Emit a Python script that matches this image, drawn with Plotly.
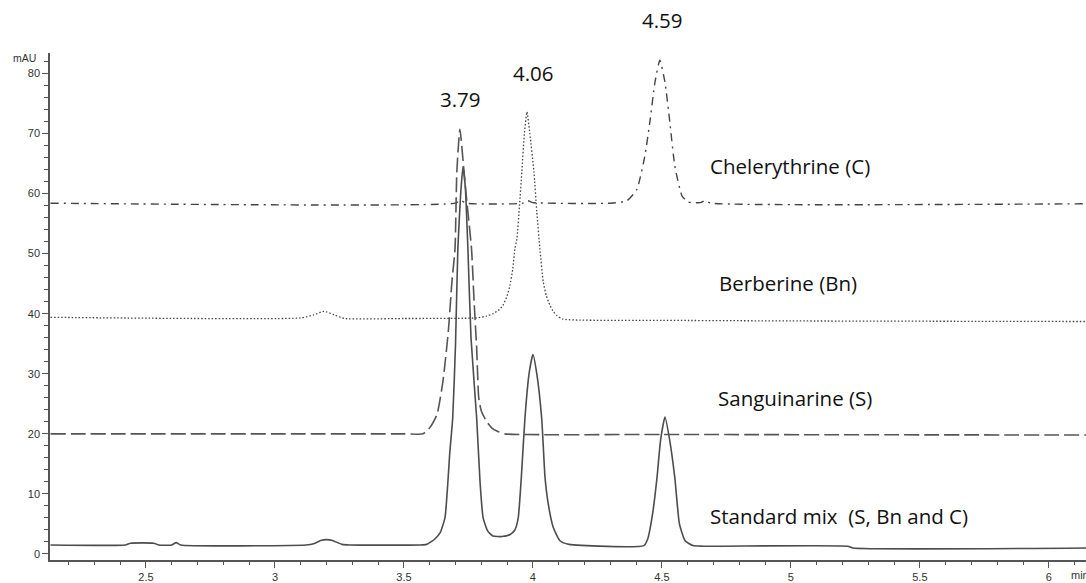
import plotly.graph_objects as go

# ---------------- data ----------------
# Standard mix (S, Bn and C) - solid line
mix_time = [2.13, 2.42, 2.44, 2.53, 2.55, 2.60, 2.617, 2.635, 3.12, 3.15, 3.18, 3.20, 3.22, 3.26, 3.29,
            3.56, 3.588, 3.62, 3.64, 3.659, 3.678, 3.689, 3.70, 3.709, 3.72, 3.729, 3.738, 3.748, 3.76,
            3.782, 3.795, 3.807, 3.825, 3.845, 3.88, 3.91, 3.93, 3.943, 3.955, 3.969, 3.985, 4.0, 4.015,
            4.034, 4.047, 4.060, 4.079, 4.105, 4.14, 4.43, 4.445, 4.465, 4.481, 4.495, 4.512, 4.53, 4.55,
            4.568, 4.59, 4.62, 4.66, 5.22, 5.24, 6.15]
mix_mau = [1.5, 1.5, 1.8, 1.8, 1.5, 1.5, 1.9, 1.5, 1.5, 1.7, 2.3, 2.4, 2.3, 1.6, 1.5,
           1.5, 1.6, 2.5, 3.5, 6.0, 17.0, 22.6, 35.0, 50.8, 60.0, 64.5, 61.0, 50.8, 36.0,
           22.6, 12.0, 6.0, 3.8, 3.0, 2.9, 3.2, 4.0, 6.0, 12.7, 22.6, 30.0, 33.2, 30.0,
           22.6, 12.7, 8.2, 4.4, 2.2, 1.6, 1.4, 2.5, 7.0, 12.7, 19.0, 22.8, 19.0, 12.7,
           5.0, 2.2, 1.4, 1.3, 1.3, 1.0, 1.0]

# Sanguinarine (S) - dashed line
s_time = [2.13, 3.50, 3.574, 3.60, 3.628, 3.651, 3.672, 3.686, 3.698, 3.705, 3.717, 3.733, 3.744,
          3.762, 3.772, 3.782, 3.79, 3.80, 3.82, 3.84, 3.864, 3.89, 4.5, 6.15]
s_mau = [20.0, 20.0, 20.0, 21.0, 23.2, 28.7, 37.0, 45.3, 50.8, 63.6, 70.7, 63.6, 58.6,
         50.8, 42.0, 34.2, 26.0, 23.8, 22.1, 21.0, 20.4, 20.0, 19.9, 19.8]

# Berberine (Bn) - dotted line
b_time = [2.13, 3.10, 3.15, 3.19, 3.23, 3.27, 3.50, 3.782, 3.82, 3.845, 3.87, 3.884, 3.90, 3.911,
          3.922, 3.930, 3.938, 3.948, 3.957, 3.967, 3.977, 3.988, 4.004, 4.015, 4.027, 4.04, 4.052,
          4.066, 4.08, 4.093, 4.116, 4.5, 5.0, 6.15]
b_mau = [39.4, 39.3, 39.8, 40.4, 39.8, 39.2, 39.2, 39.3, 39.6, 40.0, 40.7, 41.4, 43.0, 44.7,
         47.5, 50.8, 52.5, 58.0, 63.6, 70.0, 73.6, 70.0, 63.6, 57.0, 50.8, 45.3, 43.0,
         41.4, 40.3, 39.7, 39.1, 38.9, 38.8, 38.7]

# Chelerythrine (C) - dash-dot line
c_time = [2.13, 3.70, 3.72, 3.74, 3.96, 3.98, 4.00, 4.30, 4.364, 4.403, 4.434,
          4.453, 4.473, 4.492, 4.512, 4.531, 4.55, 4.578, 4.601, 4.65, 4.667, 4.69, 6.15]
c_mau = [58.4, 58.4, 58.9, 58.4, 58.4, 58.8, 58.5, 58.4, 58.8, 60.7, 66.3,
         71.8, 78.5, 82.2, 78.5, 71.8, 64.6, 59.6, 58.6, 58.5, 58.8, 58.4, 58.3]

trace_names = ["Standard mix  (S, Bn and C)", "Sanguinarine (S)", "Berberine (Bn)", "Chelerythrine (C)"]
peak_labels = ["3.79", "4.06", "4.59"]

# ---------------- figure ----------------
W, H = 1086, 583
ML, MR, MT, MB = 50, 0, 53, 21
PW, PH = W - ML - MR, H - MT - MB


def px(xp, yp):
    """pixel position in the page -> paper coordinates"""
    return (xp - ML) / PW, (H - MB - yp) / PH


fig = go.Figure()
line_col = "#4d4d4d"
fig.add_trace(go.Scatter(x=mix_time, y=mix_mau, mode="lines", name=trace_names[0],
                         line=dict(color=line_col, width=1.6, shape="spline", smoothing=0.5)))
fig.add_trace(go.Scatter(x=s_time, y=s_mau, mode="lines", name=trace_names[1],
                         line=dict(color="#555555", width=1.6, dash="15px,5px", shape="spline", smoothing=0.5)))
fig.add_trace(go.Scatter(x=b_time, y=b_mau, mode="lines", name=trace_names[2],
                         line=dict(color="#444444", width=1.3, dash="1.5px,2px", shape="spline", smoothing=0.5)))
fig.add_trace(go.Scatter(x=c_time, y=c_mau, mode="lines", name=trace_names[3],
                         line=dict(color="#444444", width=1.4, dash="8px,5px,2px,5px", shape="spline", smoothing=0.5)))

ann_font = dict(family="Open Sans", size=20.5, color="#111111")
label_pos = [(708, 518), (716, 399), (717, 284), (708, 166)]
annotations = []
for name, (xp, yp) in zip(trace_names, label_pos):
    xx, yy = px(xp, yp)
    annotations.append(dict(x=xx, y=yy, xref="paper", yref="paper", text=name.replace("  ", " \u00a0"),
                            showarrow=False, font=ann_font, xanchor="left", yanchor="middle"))
for lab, (xp, yp) in zip(peak_labels, [(460, 99), (533, 73), (662, 20)]):
    xx, yy = px(xp, yp)
    annotations.append(dict(x=xx, y=yy, xref="paper", yref="paper", text=lab,
                            showarrow=False, font=ann_font, xanchor="center", yanchor="middle"))
# axis unit labels
xx, yy = px(24, 58)
annotations.append(dict(x=xx, y=yy, xref="paper", yref="paper", text="mAU", showarrow=False,
                        font=dict(family="Liberation Sans", size=10.5, color="#333333"),
                        xanchor="center", yanchor="middle"))
xx, yy = px(1069, 577)
annotations.append(dict(x=xx, y=yy, xref="paper", yref="paper", text="min", showarrow=False,
                        font=dict(family="Liberation Sans", size=11, color="#333333"),
                        xanchor="left", yanchor="middle"))

tick_font = dict(family="Liberation Sans", size=11, color="#333333")
fig.update_layout(
    width=W, height=H,
    margin=dict(l=ML, r=MR, t=MT, b=MB, pad=0),
    paper_bgcolor="white", plot_bgcolor="white",
    showlegend=False,
    annotations=annotations,
    xaxis=dict(range=[2.128, 6.144], tick0=0, dtick=0.5, ticks="outside", ticklen=6, tickwidth=1,
               tickcolor="#555555", showline=True, linecolor="#555555", linewidth=1.5,
               showgrid=False, zeroline=False, tickfont=tick_font,
               minor=dict(dtick=0.1, ticks="outside", ticklen=3, tickcolor="#555555", showgrid=False)),
    yaxis=dict(range=[-1.0, 83.4], tick0=0, dtick=10, ticks="outside", ticklen=6, tickwidth=1,
               tickcolor="#555555", showline=True, linecolor="#555555", linewidth=1.5,
               showgrid=False, zeroline=False, tickfont=tick_font,
               minor=dict(dtick=2, ticks="outside", ticklen=4, tickcolor="#555555", showgrid=False)),
)

fig.write_html("out.html")
